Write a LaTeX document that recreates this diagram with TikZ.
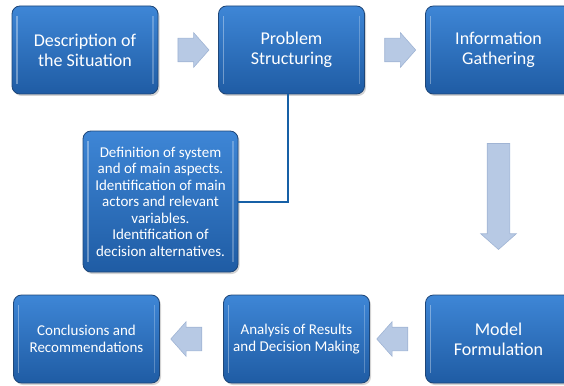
\documentclass[tikz,border=0pt]{standalone}
\usepackage{fontspec}
\setmainfont{Carlito}
\usetikzlibrary{shapes.arrows,shadows,calc}
\definecolor{boxtop}{RGB}{62,134,214}
\definecolor{boxbottom}{RGB}{31,92,164}
\definecolor{boxline}{RGB}{30,70,120}
\definecolor{arrowfill}{RGB}{183,201,228}
\definecolor{arrowline}{RGB}{160,180,212}
\definecolor{linkline}{RGB}{22,96,166}
\tikzset{
    x = 1pt,
    y = -1pt,
    every node/.style = {
        inner sep = 0pt,
        outer sep = 0pt
    },
    stage/.style = {
        rounded corners = 8pt,
        draw = boxline,
        line width = 0.8pt,
        top color = boxtop,
        bottom color = boxbottom,
        text = white,
        align = center,
        minimum width = 146pt,
        minimum height = 88pt,
        drop shadow = {opacity = 0.35, shadow xshift = 1.5pt, shadow yshift = -2pt},
        font = \fontsize{18}{20}\selectfont,
        path picture = {
            \draw[white, opacity = 0.35, line width = 1.2pt]
                ([xshift=5pt,yshift=-10pt]path picture bounding box.north west) --
                ([xshift=5pt,yshift=10pt]path picture bounding box.south west);
            \draw[white, opacity = 0.25, line width = 1.2pt]
                ([xshift=-5pt,yshift=-10pt]path picture bounding box.north east) --
                ([xshift=-5pt,yshift=10pt]path picture bounding box.south east);
        }
    },
    small text/.style = {
        font = \fontsize{15}{16.5}\selectfont
    },
    flow/.style = {
        single arrow,
        draw = arrowline,
        fill = arrowfill,
        line width = 0.6pt,
        minimum height = 31pt,
        minimum width = 34pt,
        inner xsep = 0pt,
        inner ysep = 11.5pt,
        single arrow head extend = 5.5pt,
        single arrow tip angle = 97
    },
    flow down/.style = {
        flow,
        shape border rotate = 270,
        inner xsep = 11pt,
        inner ysep = 0pt,
        minimum width = 35pt,
        single arrow head extend = 6.5pt
    },
    link/.style = {
        draw = linkline,
        line width = 2pt
    }
}

\begin{document}
\begin{tikzpicture}
    \useasboundingbox (0,0) rectangle (564,385);
    % stages of the process
    \node[stage] (describe) at (85,50) {Description of\\the Situation};
    \node[stage] (structure) at (291.5,50) {Problem\\Structuring};
    \node[stage] (gather) at (498.5,50) {Information\\Gathering};
    \node[stage, small text, minimum width = 155pt, minimum height = 141pt] (define) at (160.5,201.5)
        {Definition of system\\and of main aspects.\\Identification of main\\actors and relevant\\variables.\\Identification of\\decision alternatives.};
    \node[stage, small text] (conclude) at (86.5,339) {Conclusions and\\Recommendations};
    \node[stage, small text] (analyse) at (296.5,339) {Analysis of Results\\and Decision Making};
    \node[stage] (model) at (498.5,339) {Model\\Formulation};
    % block arrows
    \node[flow] (go1) at ($(describe.east)!0.5!(structure.west)$) {};
    \node[flow] (go2) at ($(structure.east)!0.5!(gather.west)$) {};
    \node[flow down, minimum height = 106pt, yshift = 3pt] (go3)
        at ($(gather.south)!0.5!(model.north)$) {};
    \node[flow, shape border rotate = 180] (go4) at ($(model.west)!0.5!(analyse.east)$) {};
    \node[flow, shape border rotate = 180] (go5) at ($(analyse.west)!0.5!(conclude.east)$) {};
    % detail of problem structuring
    \draw[link] ([xshift=-4pt]structure.south) |- (define.east);
\end{tikzpicture}
\end{document}
